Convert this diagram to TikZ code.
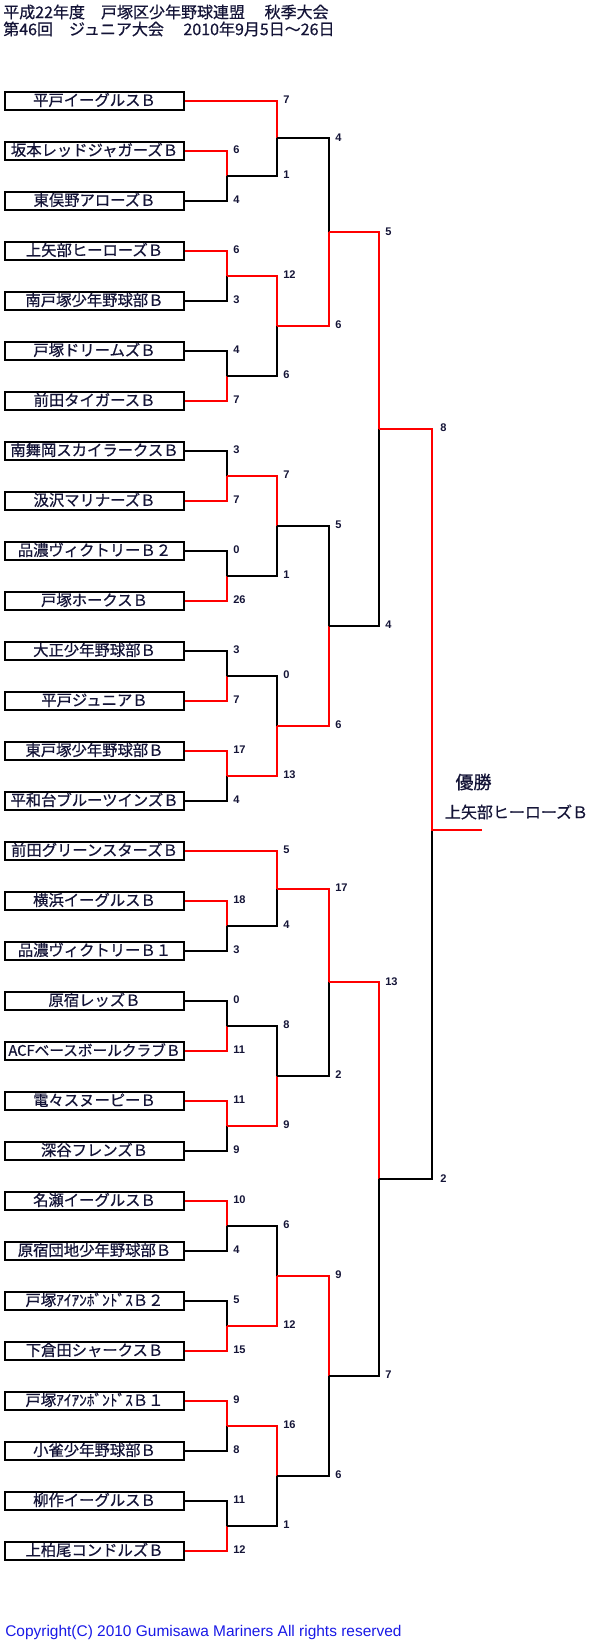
\documentclass[tikz,border=0pt]{standalone}
\usepackage{fontspec}
\setmainfont{Liberation Sans}
\newfontfamily\jpfont{Noto Sans CJK JP}[FakeBold=0.6,AutoFakeBold=0.6]
\usetikzlibrary{calc}
\definecolor{ink}{RGB}{20,20,55}
\definecolor{wred}{RGB}{255,0,0}
\definecolor{cblue}{RGB}{25,25,230}
\tikzset{
  team/.style={
    draw,
    line width=1.5pt,
    fill=white,
    minimum width=134.25pt,
    minimum height=13.9pt,
    inner sep=0pt,
    text height=8.8pt,
    text depth=1.6pt,
    text=ink,
    font=\jpfont\bfseries\fontsize{11.5}{12}\selectfont
  },
  win/.style={
    draw=wred,
    line width=1.5pt
  },
  lose/.style={
    draw=black,
    line width=1.5pt
  },
  score/.style={
    anchor=west,
    inner sep=0pt,
    text=ink,
    font=\bfseries\fontsize{8.3}{9}\selectfont
  },
  head/.style={
    anchor=west,
    inner sep=0pt,
    text=ink,
    font=\jpfont\bfseries\fontsize{12}{14}\selectfont
  }
}
% one game: column, upper side, lower side, result, scores, styles of the two sides
\newcommand{\bout}[8]{%
  \coordinate (#4m) at ($(#2)!.5!(#3)$);
  \coordinate (#4) at (#1 |- #4m);
  \draw[#8] (#3) -- (#1 |- #3) -- (#4);
  \draw[#7] (#2) -- (#1 |- #2) -- (#4);
  \node[score] (#4a) at ($(#1 |- #2)+(6,-1)$) {#5};
  \node[score] (#4b) at ($(#1 |- #3)+(6,-1)$) {#6};
}

\begin{document}
\begin{tikzpicture}[x=0.75pt,y=-0.75pt]
  \useasboundingbox (0,0) rectangle (592,1640);
  \node[head] (head1) at (3,12) {平成22年度　戸塚区少年野球連盟　 秋季大会};
  \node[head] (head2) at (3,29) {第46回　ジュニア大会　 2010年9月5日～26日};

  \foreach \club [count=\i] in {平戸イーグルスＢ, 坂本レッドジャガーズＢ, 東俣野アローズＢ,
      上矢部ヒーローズＢ, 南戸塚少年野球部Ｂ, 戸塚ドリームズＢ, 前田タイガースＢ,
      南舞岡スカイラークスＢ, 汲沢マリナーズＢ, 品濃ヴィクトリーＢ２, 戸塚ホークスＢ,
      大正少年野球部Ｂ, 平戸ジュニアＢ, 東戸塚少年野球部Ｂ, 平和台ブルーツインズＢ,
      前田グリーンスターズＢ, 横浜イーグルスＢ, 品濃ヴィクトリーＢ１, 原宿レッズＢ,
      {\fontsize{11}{12}\selectfont ACFベースボールクラブＢ}, 電々スヌーピーＢ, 深谷フレンズＢ, 名瀬イーグルスＢ,
      原宿団地少年野球部Ｂ, 戸塚ｱｲｱﾝﾎﾞﾝﾄﾞｽＢ２, 下倉田シャークスＢ, 戸塚ｱｲｱﾝﾎﾞﾝﾄﾞｽＢ１,
      小雀少年野球部Ｂ, 柳作イーグルスＢ, 上柏尾コンドルズＢ}{
    \node[team] (t\i) at (94.5,{101+50*(\i-1)}) {\club};
  }

  \coordinate (c1) at (227,0);
  \coordinate (c2) at (277,0);
  \coordinate (c3) at (329,0);
  \coordinate (c4) at (379,0);
  \coordinate (c5) at (432,0);

  % upper half
  \bout{c1}{t2.east}{t3.east}{a1}{6}{4}{win}{lose}
  \bout{c1}{t4.east}{t5.east}{a2}{6}{3}{win}{lose}
  \bout{c1}{t6.east}{t7.east}{a3}{4}{7}{lose}{win}
  \bout{c1}{t8.east}{t9.east}{a4}{3}{7}{lose}{win}
  \bout{c1}{t10.east}{t11.east}{a5}{0}{26}{lose}{win}
  \bout{c1}{t12.east}{t13.east}{a6}{3}{7}{lose}{win}
  \bout{c1}{t14.east}{t15.east}{a7}{17}{4}{win}{lose}
  \bout{c2}{t1.east}{a1}{b1}{7}{1}{win}{lose}
  \bout{c2}{a2}{a3}{b2}{12}{6}{win}{lose}
  \bout{c2}{a4}{a5}{b3}{7}{1}{win}{lose}
  \bout{c2}{a6}{a7}{b4}{0}{13}{lose}{win}
  \bout{c3}{b1}{b2}{d1}{4}{6}{lose}{win}
  \bout{c3}{b3}{b4}{d2}{5}{6}{lose}{win}
  \bout{c4}{d1}{d2}{e1}{5}{4}{win}{lose}

  % lower half
  \bout{c1}{t17.east}{t18.east}{a8}{18}{3}{win}{lose}
  \bout{c1}{t19.east}{t20.east}{a9}{0}{11}{lose}{win}
  \bout{c1}{t21.east}{t22.east}{a10}{11}{9}{win}{lose}
  \bout{c1}{t23.east}{t24.east}{a11}{10}{4}{win}{lose}
  \bout{c1}{t25.east}{t26.east}{a12}{5}{15}{lose}{win}
  \bout{c1}{t27.east}{t28.east}{a13}{9}{8}{win}{lose}
  \bout{c1}{t29.east}{t30.east}{a14}{11}{12}{lose}{win}
  \bout{c2}{t16.east}{a8}{b5}{5}{4}{win}{lose}
  \bout{c2}{a9}{a10}{b6}{8}{9}{lose}{win}
  \bout{c2}{a11}{a12}{b7}{6}{12}{lose}{win}
  \bout{c2}{a13}{a14}{b8}{16}{1}{win}{lose}
  \bout{c3}{b5}{b6}{d3}{17}{2}{win}{lose}
  \bout{c3}{b7}{b8}{d4}{9}{6}{win}{lose}
  \bout{c4}{d3}{d4}{e2}{13}{7}{win}{lose}

  % final
  \coordinate (fin) at (432,830);
  \coordinate (champ) at (482,830);
  \draw[lose] (e2) -- (c5 |- e2) -- (fin);
  \draw[win] (e1) -- (c5 |- e1) -- (fin) -- (champ);
  \node[score] (e1s) at ($(c5 |- e1)+(8,-1)$) {8};
  \node[score] (e2s) at ($(c5 |- e2)+(8,-1)$) {2};
  \node[inner sep=0pt, text=ink, font=\jpfont\bfseries\fontsize{13.5}{15}\selectfont] (yusho) at (473.5,782) {優勝};
  \node[inner sep=0pt, text=ink, font=\jpfont\bfseries\fontsize{12}{14}\selectfont] (winner) at (516.5,812) {上矢部ヒーローズＢ};

  \node[anchor=west, inner sep=0pt, text=cblue, font=\fontsize{11.6}{13}\selectfont] (copy) at (5,1632) {Copyright(C) 2010 Gumisawa Mariners All rights reserved};
\end{tikzpicture}
\end{document}
